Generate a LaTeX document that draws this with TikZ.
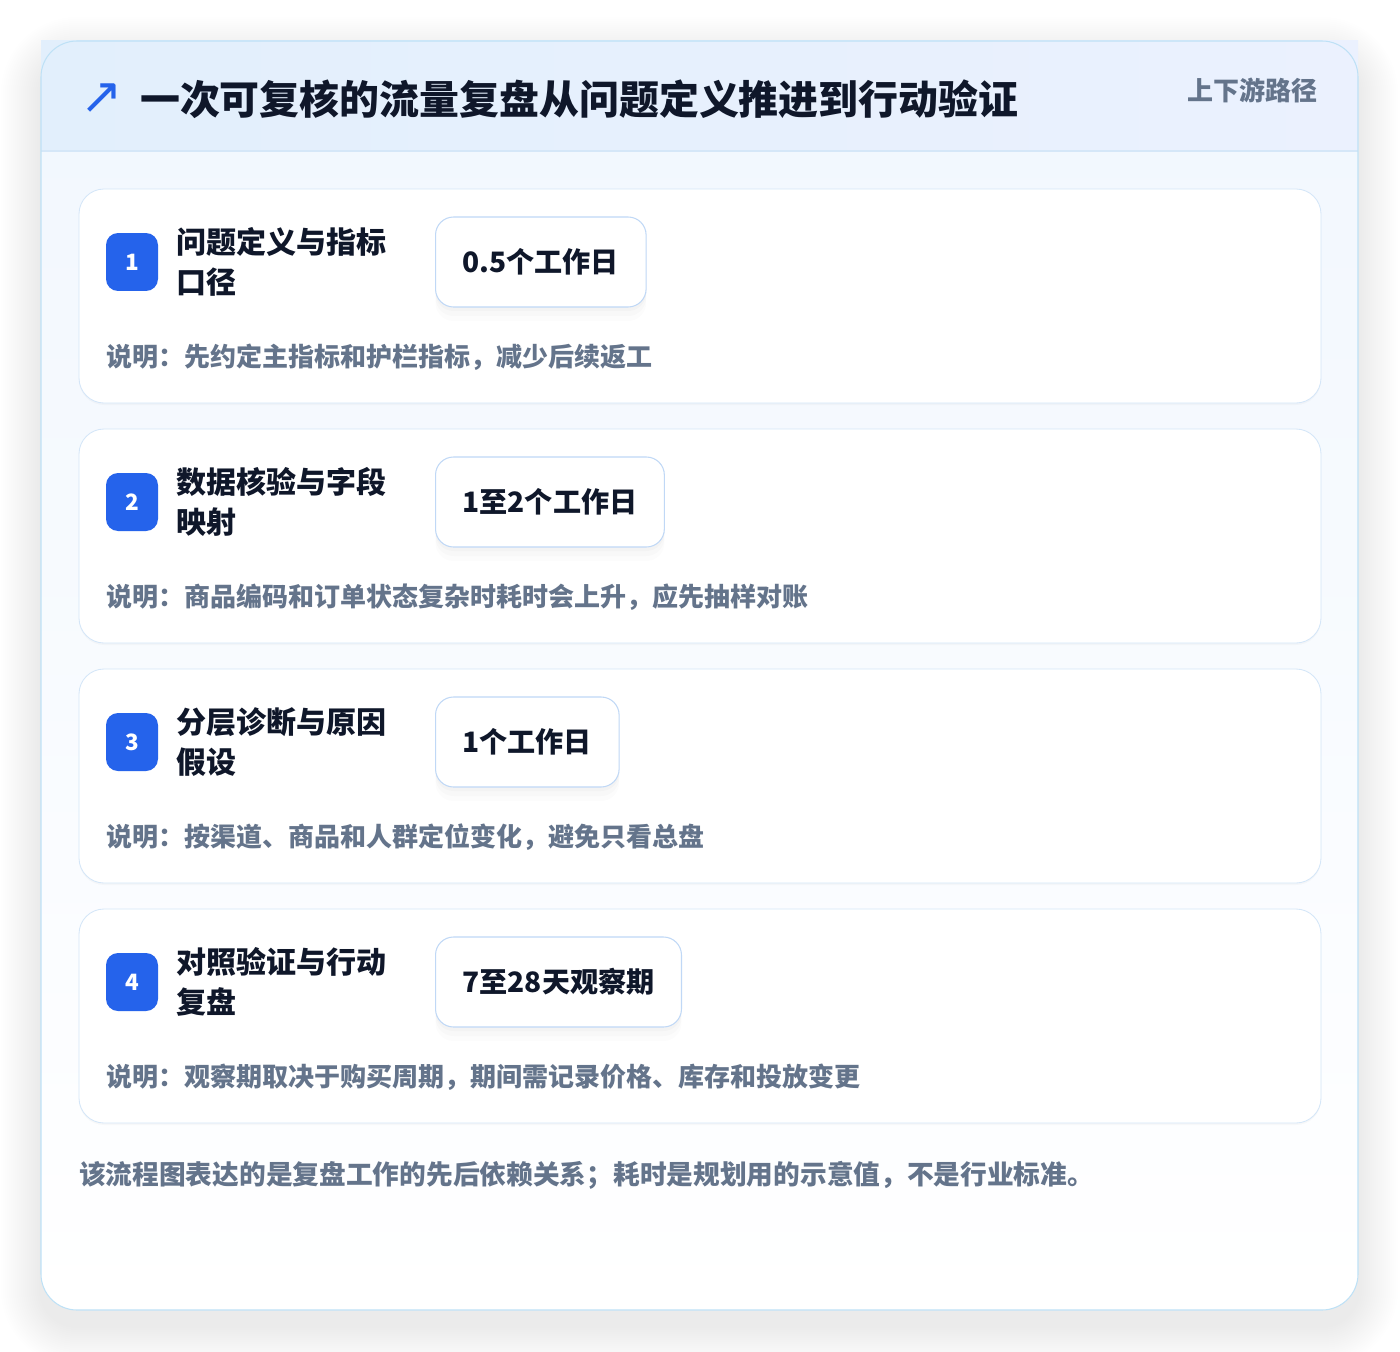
\documentclass[tikz,border=0pt]{standalone}
\usepackage{fontspec}
\newfontfamily\cjk{Noto Sans CJK SC}
\newfontfamily\symb{DejaVu Sans}
\usetikzlibrary{positioning}

\definecolor{cardline}{HTML}{BEE1F6}
\definecolor{stepline}{HTML}{D4E6F8}
\definecolor{durline}{HTML}{C0D8F6}
\definecolor{headl}{HTML}{E2EFFC}
\definecolor{headr}{HTML}{EBF1FE}
\definecolor{headline}{HTML}{D5E7F8}
\definecolor{bodytop}{HTML}{F1F7FE}
\definecolor{badgeblue}{HTML}{2563EB}
\definecolor{ink}{HTML}{0F172A}
\definecolor{muted}{HTML}{64748B}

\tikzset{
  softshadow/.style={fill=black, fill opacity=#1},
  stepcard/.style={draw=stepline, line width=1.2pt, fill=white, rounded corners=1.25cm},
  badge/.style={fill=badgeblue, rounded corners=0.6cm, minimum width=2.6cm, minimum height=2.9cm,
    inner sep=0pt, text=white, font=\cjk\bfseries\fontsize{32}{32}\selectfont},
  steptitle/.style={align=left, inner sep=0pt, text=ink, font=\cjk\bfseries\fontsize{42.7}{56.9}\selectfont},
  durbox/.style={anchor=west, draw=durline, line width=1.5pt, fill=white, rounded corners=0.9cm,
    minimum height=4.5cm, inner xsep=1.35cm, text=ink, font=\cjk\bfseries\fontsize{40}{40}\selectfont,
    preaction={draw=none, softshadow=0.012, transform canvas={yshift=-0.7cm}},
    preaction={draw=none, softshadow=0.014, transform canvas={yshift=-0.45cm}},
    preaction={draw=none, softshadow=0.018, transform canvas={yshift=-0.2cm}}},
  notetext/.style={anchor=west, inner sep=0pt, text=muted, font=\cjk\bfseries\fontsize{37}{37}\selectfont},
}

\begin{document}
\begin{tikzpicture}[x=0.05cm, y=-0.05cm]
    % page and outer card with a soft shadow
    \useasboundingbox[fill=white] (0,0) rectangle (1400,1352);
    \foreach \k in {1,...,20}
      \fill[softshadow=0.0035, rounded corners=1.8cm+\k*0.1cm]
        (41-2*\k,41-2*\k+16) rectangle (1358+2*\k,1310+2*\k+16);
    \fill[white, rounded corners=1.8cm] (41,41) rectangle (1358,1310);
    \shade[top color=bodytop, bottom color=white, rounded corners=1.8cm] (41,41) rectangle (1358,1310);

    % header band
    \shade[left color=headl, right color=headr] (41,41) rectangle (1358,151);
    \draw[headline, line width=1.5pt] (41,151) -- (1358,151);
    \draw[cardline, line width=1.5pt, rounded corners=1.8cm] (41,41) rectangle (1358,1310);

    \node[text=badgeblue, inner sep=0pt, font=\symb\fontsize{72}{72}\selectfont] (icon) at (102,99) {↗};
    \node[anchor=west, inner sep=0pt, text=ink, font=\cjk\bfseries\fontsize{56.8}{56.8}\selectfont]
      (head) at (140,99) {一次可复核的流量复盘从问题定义推进到行动验证};
    \node[anchor=east, inner sep=0pt, text=muted, font=\cjk\bfseries\fontsize{37}{37}\selectfont]
      (route) at (1318,90) {上下游路径};

    % four steps
    \foreach \i/\ta/\tb/\dur/\note in {
        1/问题定义与指标/口径/0.5个工作日/先约定主指标和护栏指标，减少后续返工,
        2/数据核验与字段/映射/1至2个工作日/商品编码和订单状态复杂时耗时会上升，应先抽样对账,
        3/分层诊断与原因/假设/1个工作日/按渠道、商品和人群定位变化，避免只看总盘,
        4/对照验证与行动/复盘/7至28天观察期/观察期取决于购买周期，期间需记录价格、库存和投放变更}{
      \pgfmathsetmacro\dy{240*(\i-1)}
      \fill[softshadow=0.025, rounded corners=1.25cm] (79,191+\dy) rectangle (1321,405+\dy);
      \path[stepcard] (79,189+\dy) rectangle (1321,403+\dy);
      \node[badge] (badge\i) at (132,262+\dy) {\i};
      \node[steptitle, right=0.9cm of badge\i] (title\i) {\ta\\\tb};
      \node[durbox] (dur\i) at (435,262+\dy) {\dur};
      \node[notetext] (note\i) at (106,357+\dy) {说明：\note};
    }

    % footer remark
    \node[notetext, font=\cjk\bfseries\fontsize{38}{38}\selectfont] (foot) at (79,1175)
      {该流程图表达的是复盘工作的先后依赖关系；耗时是规划用的示意值，不是行业标准。};
\end{tikzpicture}
\end{document}
